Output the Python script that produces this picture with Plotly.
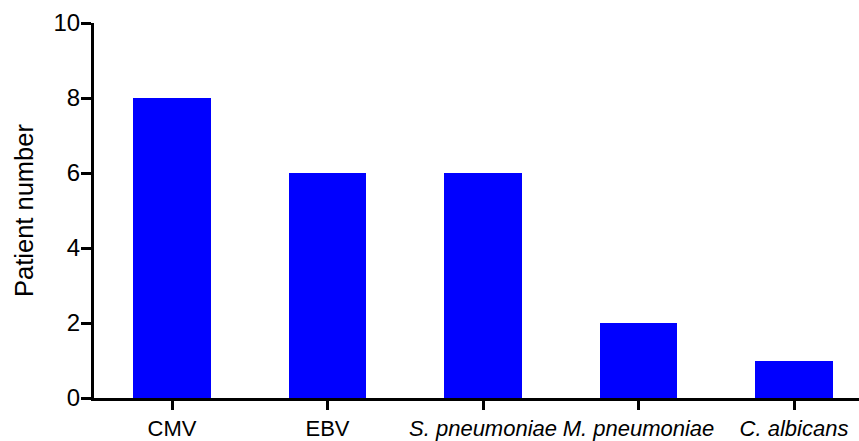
import plotly.graph_objects as go

categories = ["CMV", "EBV", "S. pneumoniae", "M. pneumoniae", "C. albicans"]
italic = [False, False, True, True, True]
patients = [8, 6, 6, 2, 1]
y_ticks = [0, 2, 4, 6, 8, 10]

ticktext = [f"<i>{c}</i>" if it else c for c, it in zip(categories, italic)]
xs = list(range(len(categories)))

fig = go.Figure(go.Bar(x=xs, y=patients, width=0.5, marker=dict(color="#0000FF", line=dict(width=0))))

fig.update_layout(
    width=859, height=441,
    margin=dict(l=94, r=0, t=23, b=43, pad=0),
    plot_bgcolor="white", paper_bgcolor="white",
    font=dict(family="Liberation Sans, Arial, sans-serif", size=23, color="black"),
    showlegend=False,
    bargap=0,
)
fig.update_xaxes(
    range=[-0.502, 4.418], tickmode="array", tickvals=xs, ticktext=ticktext,
    showline=True, linecolor="black", linewidth=3, ticks="outside", ticklen=9,
    tickwidth=3, tickcolor="black", showgrid=False, zeroline=False,
    tickfont=dict(size=22), tickangle=0, ticklabeloverflow="allow",
)
fig.update_yaxes(
    range=[0, 10], tickmode="array", tickvals=y_ticks,
    showline=True, linecolor="black", linewidth=3, ticks="outside", ticklen=10,
    tickwidth=3, tickcolor="black", showgrid=False, zeroline=False,
    title=dict(text="Patient number", font=dict(size=25.5), standoff=13),
    tickfont=dict(size=24), ticklabelstandoff=-4,
)

fig.write_html("out.html", config={"displayModeBar": False},
               post_script="document.body.style.margin='0px';document.body.style.overflow='hidden';")
